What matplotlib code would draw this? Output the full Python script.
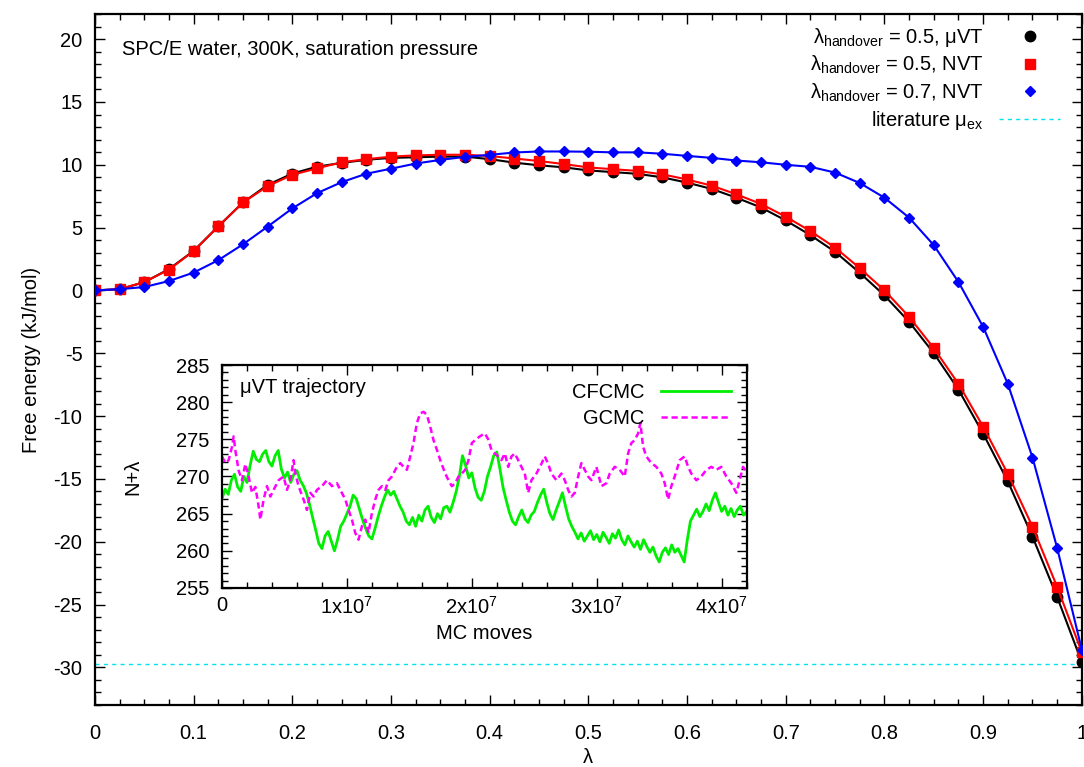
import matplotlib
matplotlib.use('Agg')
import matplotlib.pyplot as plt
from matplotlib.lines import Line2D
from matplotlib.ticker import MultipleLocator, FuncFormatter

plt.rcParams['font.family'] = ['Liberation Sans', 'DejaVu Sans']
plt.rcParams['mathtext.fontset'] = 'custom'
plt.rcParams['mathtext.rm'] = 'Liberation Sans'
plt.rcParams['mathtext.it'] = 'Liberation Sans:italic'
plt.rcParams['axes.unicode_minus'] = False
FS = 14.5

# free energy profiles, lambda step 0.025
lam = [i * 0.025 for i in range(41)]
muvt_05 = [0.0, 0.1, 0.65, 1.7, 3.15, 5.1, 7.0, 8.4, 9.3, 9.85, 10.15, 10.4, 10.55, 10.6, 10.65,
           10.65, 10.45, 10.17, 9.96, 9.8, 9.55, 9.42, 9.28, 9.0, 8.58, 8.08, 7.38, 6.6, 5.57,
           4.4, 3.07, 1.4, -0.4, -2.5, -5.0, -7.9, -11.4, -15.2, -19.6, -24.4, -29.6]
nvt_05 = [0.0, 0.1, 0.67, 1.66, 3.13, 5.1, 7.0, 8.3, 9.2, 9.72, 10.2, 10.45, 10.65, 10.75, 10.8,
          10.8, 10.7, 10.5, 10.3, 10.06, 9.79, 9.65, 9.51, 9.24, 8.83, 8.34, 7.65, 6.88, 5.87,
          4.72, 3.41, 1.77, 0.0, -2.1, -4.6, -7.44, -10.84, -14.6, -18.8, -23.6, -28.8]
nvt_07 = [0.0, 0.1, 0.27, 0.75, 1.42, 2.41, 3.67, 5.08, 6.53, 7.74, 8.62, 9.29, 9.69, 10.1,
          10.39, 10.63, 10.79, 10.98, 11.06, 11.06, 11.04, 10.99, 10.99, 10.88, 10.71, 10.55,
          10.34, 10.2, 10.0, 9.84, 9.38, 8.55, 7.38, 5.79, 3.6, 0.67, -2.9, -7.44, -13.3,
          -20.5, -28.6]
mu_ex_lit = -29.7

# inset: N+lambda trajectories (MC moves in units of 1e7)
cfcmc_x = [i * 0.025 for i in range(169)]
cfcmc_y = [267.0, 268.3, 267.6, 269.5, 270.3, 268.6, 268.0, 270.0, 269.2, 271.5, 273.4, 272.3,
           272.0, 273.0, 273.5, 272.0, 271.4, 272.8, 273.5, 271.0, 269.8, 270.6, 269.2, 270.3,
           270.8, 269.5, 268.8, 267.8, 266.3, 264.5, 262.8, 261.0, 260.3, 262.0, 262.6, 261.3,
           260.0, 261.5, 263.3, 264.0, 265.0, 266.0, 267.5, 267.0, 265.6, 264.2, 263.0, 262.0,
           261.6, 263.0, 264.6, 266.0, 267.2, 268.2, 267.5, 268.0, 267.0, 266.0, 265.2, 264.0,
           263.5, 264.5, 263.3, 264.8, 264.0, 265.5, 266.0, 264.5, 263.8, 265.0, 264.3, 265.8,
           266.0, 265.2, 266.5, 268.0, 270.0, 272.8, 271.5, 269.8, 270.5, 268.5, 267.2, 266.8,
           268.0, 270.0, 271.3, 272.8, 273.3, 271.0, 268.5, 266.8, 265.2, 264.0, 263.5, 264.6,
           265.5, 264.3, 263.8, 264.8, 265.3, 266.5, 267.5, 268.3, 266.5, 265.0, 264.2, 265.5,
           266.6, 267.8, 266.0, 264.3, 263.3, 262.5, 261.6, 262.4, 261.3, 262.0, 262.7, 261.5,
           262.2, 261.2, 262.5, 261.8, 261.0, 262.3, 261.7, 262.8, 261.5, 260.8, 262.0, 261.2,
           260.5, 261.3, 260.2, 261.5, 260.6, 259.8, 260.5, 259.3, 258.5, 259.8, 260.4, 259.5,
           260.8, 259.8, 260.3, 259.4, 258.5, 261.5, 264.0, 264.8, 265.6, 264.6, 265.3, 266.3,
           265.4, 266.8, 267.8, 266.5, 265.3, 266.0, 264.8, 265.7, 264.6, 265.5, 266.0, 264.8,
           265.3]
gcmc_x = [0.0, 0.027, 0.053, 0.08, 0.093, 0.107, 0.133, 0.16, 0.187, 0.213, 0.24, 0.267, 0.293,
          0.307, 0.333, 0.36, 0.387, 0.413, 0.453, 0.493, 0.52, 0.547, 0.573, 0.587, 0.613,
          0.653, 0.68, 0.707, 0.733, 0.76, 0.8, 0.84, 0.88, 0.92, 0.96, 0.987, 1.013, 1.04,
          1.067, 1.093, 1.12, 1.147, 1.173, 1.2, 1.227, 1.253, 1.28, 1.307, 1.333, 1.36, 1.4,
          1.427, 1.453, 1.48, 1.507, 1.533, 1.56, 1.587, 1.613, 1.64, 1.667, 1.693, 1.72, 1.747,
          1.787, 1.813, 1.84, 1.867, 1.893, 1.92, 1.947, 1.973, 2.0, 2.027, 2.064, 2.104, 2.131,
          2.157, 2.184, 2.211, 2.237, 2.264, 2.291, 2.317, 2.344, 2.371, 2.397, 2.424, 2.451,
          2.477, 2.517, 2.557, 2.584, 2.611, 2.637, 2.677, 2.717, 2.744, 2.771, 2.797, 2.824,
          2.851, 2.877, 2.904, 2.931, 2.957, 2.997, 3.037, 3.077, 3.104, 3.144, 3.184, 3.224,
          3.251, 3.277, 3.304, 3.331, 3.349, 3.371, 3.397, 3.437, 3.477, 3.517, 3.544, 3.571,
          3.597, 3.624, 3.664, 3.704, 3.731, 3.757, 3.797, 3.837, 3.877, 3.917, 3.957, 3.997,
          4.037, 4.077, 4.117, 4.144, 4.171, 4.2]
gcmc_y = [272.7, 271.8, 272.2, 274.0, 275.4, 273.5, 270.8, 269.5, 271.7, 270.0, 267.8, 268.6,
          266.0, 264.2, 266.9, 268.7, 267.3, 268.2, 269.5, 270.0, 268.2, 269.5, 272.2, 270.4,
          268.7, 266.9, 265.5, 267.8, 267.3, 268.2, 268.7, 269.5, 268.7, 269.1, 267.8, 266.9,
          265.5, 264.2, 262.4, 261.5, 263.3, 264.2, 262.4, 265.1, 266.9, 268.2, 268.7, 268.2,
          269.5, 270.0, 271.3, 271.8, 271.3, 270.9, 272.7, 274.5, 277.2, 278.5, 278.7, 278.3,
          276.7, 274.9, 273.6, 272.2, 270.4, 269.5, 268.7, 269.1, 270.0, 270.4, 270.9, 272.2,
          274.5, 274.9, 275.4, 275.8, 275.0, 273.6, 273.1, 272.7, 272.2, 273.1, 271.3, 272.7,
          273.1, 272.2, 271.3, 270.4, 267.8, 269.5, 270.4, 271.7, 272.7, 271.7, 270.4, 269.5,
          270.4, 269.5, 268.2, 267.3, 267.8, 270.0, 271.8, 270.9, 270.0, 269.5, 271.3, 268.7,
          269.1, 270.4, 271.3, 270.9, 270.0, 273.1, 274.5, 274.9, 275.8, 277.2, 274.0, 272.7,
          271.8, 271.3, 270.4, 269.1, 266.9, 268.7, 270.0, 272.2, 272.7, 271.3, 270.4, 269.5,
          270.0, 270.9, 271.3, 270.9, 271.3, 270.0, 269.1, 267.8, 269.5, 271.3, 270.5]

fig = plt.figure(figsize=(10.84, 7.67), dpi=100)
ax = fig.add_axes([0.0876, 0.0808, 0.9104, 0.9009])

ax.axhline(mu_ex_lit, color='#00e5ee', lw=1, ls=(0, (3, 3)), zorder=1)
ax.plot(lam, muvt_05, color='black', lw=1.5, marker='o', ms=7.5, zorder=2)
ax.plot(lam, nvt_05, color='red', lw=1.5, marker='s', ms=7.5, zorder=3)
ax.plot(lam, nvt_07, color='blue', lw=1.5, marker='D', ms=5.5, zorder=4)

ax.set_xlim(0, 1)
ax.set_ylim(-33, 22)
ax.xaxis.set_major_locator(MultipleLocator(0.1))
ax.xaxis.set_minor_locator(MultipleLocator(0.025))
ax.yaxis.set_major_locator(MultipleLocator(5))
ax.yaxis.set_minor_locator(MultipleLocator(1))
ax.xaxis.set_major_formatter(FuncFormatter(lambda v, p: '%g' % round(v, 2)))
ax.tick_params(which='both', direction='in', top=True, right=True, labelsize=FS)
ax.tick_params(which='major', length=7, width=1)
ax.tick_params(which='minor', length=4, width=1)
ax.tick_params(axis='x', which='major', pad=14)
ax.tick_params(axis='y', which='major', pad=9)
for s in ax.spines.values():
    s.set_linewidth(1.6)
ax.set_xlabel('λ', fontsize=FS, labelpad=3)
ax.set_ylabel('Free energy (kJ/mol)', fontsize=FS, labelpad=9)
ax.text(0.027, 0.949, 'SPC/E water, 300K, saturation pressure', transform=ax.transAxes,
        fontsize=FS, va='center', ha='left')

handles = [
    Line2D([], [], color='black', marker='o', ms=7.5, ls='none'),
    Line2D([], [], color='red', marker='s', ms=7.5, ls='none'),
    Line2D([], [], color='blue', marker='D', ms=5.5, ls='none'),
    Line2D([], [], color='#00e5ee', lw=1, ls=(0, (3, 3))),
]
labels = [
    r'λ$_{\mathrm{handover}}$ = 0.5, μVT',
    r'λ$_{\mathrm{handover}}$ = 0.5, NVT',
    r'λ$_{\mathrm{handover}}$ = 0.7, NVT',
    r'literature μ$_{\mathrm{ex}}$',
]
ax.legend(handles, labels, loc='upper right', bbox_to_anchor=(0.99, 1.0), frameon=False,
          markerfirst=False, fontsize=FS, handlelength=3, labelspacing=0.25,
          handletextpad=0.8, borderaxespad=0.2)

# inset
ins = fig.add_axes([0.2048, 0.2334, 0.484, 0.2907])
ins.plot([x * 1e7 for x in cfcmc_x], cfcmc_y, color='#00ee00', lw=2.0, label='CFCMC')
ins.plot([x * 1e7 for x in gcmc_x], gcmc_y, color='#ff00ff', lw=1.8, ls=(0, (2.5, 1.5)),
         label='GCMC')
ins.set_xlim(0, 4.2e7)
ins.set_ylim(255, 285)
ins.xaxis.set_major_locator(MultipleLocator(1e7))
ins.xaxis.set_minor_locator(MultipleLocator(2e6))
ins.yaxis.set_major_locator(MultipleLocator(5))
ins.yaxis.set_minor_locator(MultipleLocator(1))
ins.xaxis.set_major_formatter(FuncFormatter(
    lambda v, p: '0' if v == 0 else '%dx10$^{7}$' % round(v / 1e7)))
ins.tick_params(which='both', direction='in', top=True, right=True, labelsize=FS)
ins.tick_params(which='major', length=7, width=1)
ins.tick_params(which='minor', length=4, width=1)
ins.tick_params(axis='x', which='major', pad=6)
ins.tick_params(axis='y', which='major', pad=9)
for s in ins.spines.values():
    s.set_linewidth(1.6)
ins.set_xlabel('MC moves', fontsize=FS, labelpad=4)
ins.set_ylabel('N+λ', fontsize=FS, labelpad=24)
ins.text(0.035, 0.9, 'μVT trajectory', transform=ins.transAxes, fontsize=FS,
         va='center', ha='left')
ins.legend(loc='upper right', bbox_to_anchor=(0.99, 0.965), frameon=False, markerfirst=False,
           fontsize=FS, handlelength=3.5, labelspacing=0.35, handletextpad=0.8,
           borderaxespad=0.1)

fig.savefig('out.png', dpi=100)
